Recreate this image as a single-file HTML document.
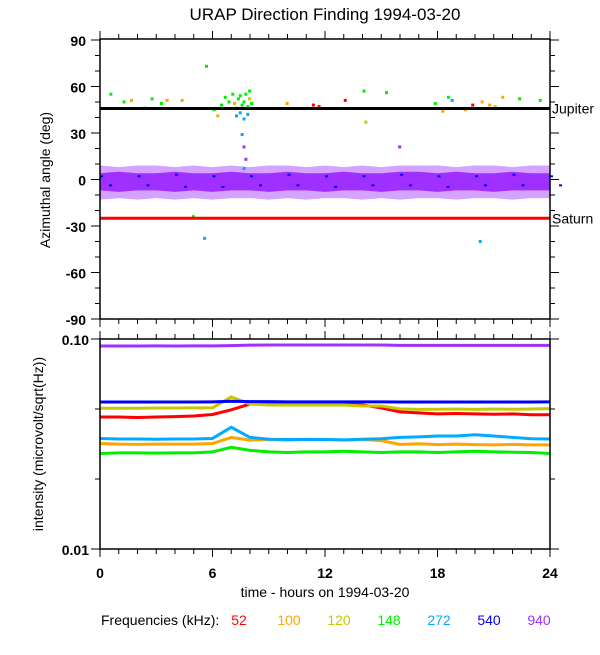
<!DOCTYPE html>
<html><head><meta charset="utf-8">
<style>
body{margin:0;background:#fff;}
svg text{font-family:"Liberation Sans",sans-serif;fill:#000;}
</style></head>
<body>
<svg id="chart" width="600" height="650" xmlns="http://www.w3.org/2000/svg">
<text x="325" y="20" font-size="17" text-anchor="middle">URAP Direction Finding  1994-03-20</text>
<g id="topPanel"></g>
<g id="botPanel"></g>
<text transform="translate(50,180) rotate(-90)" font-size="14" text-anchor="middle">Azimuthal angle (deg)</text>
<text transform="translate(43,444) rotate(-90)" font-size="14" text-anchor="middle">intensity (microvolt/sqrt(Hz))</text>
<text x="325" y="597" font-size="14" text-anchor="middle">time - hours on 1994-03-20</text>
<g id="legend">
<text x="101" y="625" font-size="14">Frequencies (kHz):</text>
</g>
</svg>
<script>
const NS="http://www.w3.org/2000/svg";
const hours=[0,1,2,3,4,5,6,7,8,9,10,11,12,13,14,15,16,17,18,19,20,21,22,23,24];
const freqs=["52","100","120","148","272","540","940"];
const colors=["#ff0000","#ffa500","#c8c800","#00ee00","#00aaff","#0000ff","#a030ff"];
const xTicks=[0,6,12,18,24];
const topTicks=[90,60,30,0,-30,-60,-90];
const botTicks=["0.10","0.01"];
const jupiterDeg=45.8, saturnDeg=-25;
const int52 =[0.0425,0.0425,0.0423,0.0425,0.0427,0.043,0.0437,0.046,0.049,0.049,0.049,0.0495,0.049,0.049,0.0485,0.047,0.045,0.0445,0.044,0.0442,0.044,0.0438,0.044,0.0436,0.0436];
const int100=[0.0318,0.0316,0.0315,0.0316,0.0316,0.0316,0.0318,0.034,0.033,0.0332,0.033,0.0333,0.0332,0.033,0.0332,0.0328,0.0315,0.0317,0.0314,0.0316,0.0314,0.0313,0.0315,0.0313,0.0313];
const int120=[0.0468,0.0468,0.0468,0.0469,0.0469,0.047,0.047,0.053,0.049,0.0485,0.0485,0.0485,0.0485,0.0485,0.048,0.048,0.0465,0.0462,0.0463,0.0464,0.0462,0.0464,0.0463,0.0464,0.0466];
const int148=[0.0285,0.0287,0.0287,0.0286,0.0287,0.0287,0.029,0.0305,0.0295,0.029,0.0288,0.029,0.029,0.0292,0.029,0.0288,0.029,0.029,0.0288,0.029,0.0292,0.029,0.0289,0.0288,0.0285];
const int272=[0.0336,0.0334,0.0334,0.0333,0.0334,0.0334,0.0336,0.038,0.034,0.0333,0.0332,0.0332,0.0332,0.0331,0.0333,0.0335,0.034,0.0342,0.0345,0.0345,0.035,0.0345,0.034,0.0335,0.0334];
const int540=[0.0501,0.0501,0.0501,0.0501,0.0501,0.0501,0.0502,0.0505,0.0503,0.0503,0.0502,0.0502,0.0502,0.0502,0.0502,0.0502,0.0501,0.0501,0.0501,0.0501,0.0501,0.0501,0.0501,0.0501,0.0502];
const int940=[0.0926,0.0926,0.0926,0.0927,0.0926,0.0927,0.0928,0.093,0.0935,0.0936,0.0936,0.0936,0.0936,0.0936,0.0936,0.0936,0.0932,0.0932,0.0932,0.0932,0.0932,0.0932,0.0932,0.0932,0.0932];
const intSeries=[int52,int100,int120,int148,int272,int540,int940];
const bandUpper=[4,5,4,4,5,4,4,5,4,4,5,4,4,5,4,4,5,5,4,5,4,4,5,4,4];
const bandLower=[-7,-8,-7,-7,-8,-7,-8,-7,-7,-8,-7,-7,-8,-7,-7,-8,-7,-7,-8,-7,-7,-8,-7,-7,-7];
const fringeUpper=[9,8,9,9,8,9,8,9,8,9,9,8,9,8,9,8,9,9,9,8,9,9,8,9,9];
const fringeLower=[-13,-12,-13,-12,-13,-12,-13,-12,-12,-13,-12,-13,-12,-12,-13,-12,-13,-12,-12,-13,-12,-12,-13,-12,-12];
const ptHour=[0.5,1.2,1.6,2.3,2.7,3.2,3.5,4.3,5.6,6.4,6.6,6.8,7.0,7.1,7.2,7.3,7.4,7.5,7.6,7.7,7.8,7.9,8.0,7.2,7.4,7.6,7.8,7.5,7.6,7.7,7.6,9.9,11.3,11.6,13.0,14.0,14.1,15.2,15.9,17.8,18.2,18.5,18.7,19.4,19.8,20.3,20.7,21.0,21.4,22.3,23.4,4.9,5.5,20.2,7.9,6.2,6.0];
const ptDeg =[56,51,52,47,53,50,52,52,74,49,54,51,56,50,47,53,55,49,51,56,48,53,50,42,44,40,43,30,22,14,8,50,49,48,52,58,38,57,22,50,45,54,52,46,49,51,49,48,54,53,52,-23,-37,-39,58,42,46];
const ptColor=[3,3,1,3,3,3,1,1,3,3,3,3,3,1,3,3,3,3,3,3,3,2,3,4,4,4,4,4,6,6,4,1,0,0,0,3,2,3,6,3,1,3,4,1,0,1,1,2,1,3,3,3,4,4,3,1,3];

const X0=100,X1=550;
const xs=h=>X0+h/24*(X1-X0);
const TY0=40,TY1=319;
const ty=d=>TY0+(90-d)/180*(TY1-TY0);
const BY0=339,BY1=549;
const by=v=>BY0+(-1-Math.log10(v))*(BY1-BY0);

function el(tag,attrs,parent){const e=document.createElementNS(NS,tag);for(const k in attrs)e.setAttribute(k,attrs[k]);parent.appendChild(e);return e;}
const topG=document.getElementById('topPanel'), botG=document.getElementById('botPanel');

function bandPoly(up,lo){let p=[];hours.forEach((h,i)=>p.push(xs(h)+","+ty(up[i])));
 for(let i=hours.length-1;i>=0;i--)p.push(xs(hours[i])+","+ty(lo[i]));return p.join(" ");}
const fringe=el('polygon',{points:bandPoly(fringeUpper,fringeLower),fill:colors[6],"fill-opacity":0.45},topG);


const band=el('polygon',{points:bandPoly(bandUpper,bandLower),fill:colors[6]},topG);


hours.forEach((h,i)=>{ if(i%2==0){
  const b=el('rect',{x:xs(h),y:ty(bandUpper[i])+2,width:3,height:2,fill:colors[5]},topG);
  
  
  const c=el('rect',{x:xs(h)+9,y:ty(bandLower[i])-6,width:3,height:2,fill:colors[5]},topG);
  
  
}});
ptHour.forEach((h,i)=>{
  const r=el('rect',{x:xs(h),y:ty(ptDeg[i]),width:3,height:3,fill:colors[ptColor[i]]},topG);
  
  
});
const jl=el('line',{x1:X0,x2:X1,y1:ty(jupiterDeg),y2:ty(jupiterDeg),stroke:"#000","stroke-width":3},topG);


const sl=el('line',{x1:X0,x2:X1,y1:ty(saturnDeg),y2:ty(saturnDeg),stroke:"#ff0000","stroke-width":3},topG);


const jt=el('text',{x:552,y:ty(jupiterDeg)+5,"font-size":14},topG);jt.textContent="Jupiter";


const st=el('text',{x:552,y:ty(saturnDeg)+5,"font-size":14},topG);st.textContent="Saturn";



function frame(g,y0,y1){
  const f=el('rect',{x:X0,y:y0,width:X1-X0,height:y1-y0,fill:"none",stroke:"#000","stroke-width":1.5},g);
  
  
  for(let h=0;h<=24;h++){
    const len=h%6==0?8:5;
    el('line',{x1:xs(h),x2:xs(h),y1:y0,y2:y0-len,stroke:"#000"},g);
    el('line',{x1:xs(h),x2:xs(h),y1:y1,y2:y1+len,stroke:"#000"},g);
  }
}
frame(topG,TY0-1,TY1);
for(let d=-90;d<=90;d+=10){
  const len=d%30==0?9:5;
  el('line',{x1:X0,x2:X0-len,y1:ty(d),y2:ty(d),stroke:"#000"},topG);
  el('line',{x1:X1,x2:X1+len,y1:ty(d),y2:ty(d),stroke:"#000"},topG);
}
topTicks.forEach(d=>{const t=el('text',{x:86,y:ty(d)+6,"font-size":14,"font-weight":"bold","text-anchor":"end"},topG);t.textContent=d;
  
  });

intSeries.forEach((s,k)=>{
  const p=el('polyline',{points:hours.map((h,i)=>xs(h)+","+by(s[i])).join(" "),fill:"none",stroke:colors[k],"stroke-width":3},botG);
  
  
});
frame(botG,BY0,BY1);
[0.1,0.1/Math.pow(10,1/3),0.1/Math.pow(10,2/3),0.01].forEach((v,i)=>{
  const len=(i==0||i==3)?9:5;
  el('line',{x1:X0,x2:X0-len,y1:by(v),y2:by(v),stroke:"#000"},botG);
  el('line',{x1:X1,x2:X1+len,y1:by(v),y2:by(v),stroke:"#000"},botG);
});
botTicks.forEach(l=>{const t=el('text',{x:89,y:by(parseFloat(l))+6,"font-size":14,"font-weight":"bold","text-anchor":"end"},botG);t.textContent=l;
  
  });
xTicks.forEach(h=>{const t=el('text',{x:xs(h),y:578,"font-size":14,"font-weight":"bold","text-anchor":"middle"},botG);t.textContent=h;
  
  });

const lg=document.getElementById('legend');
freqs.forEach((f,k)=>{const t=el('text',{x:239+k*50,y:625,"font-size":14,"text-anchor":"middle",style:"fill:"+colors[k]},lg);t.textContent=f;
  
  });
</script>
</body></html>
